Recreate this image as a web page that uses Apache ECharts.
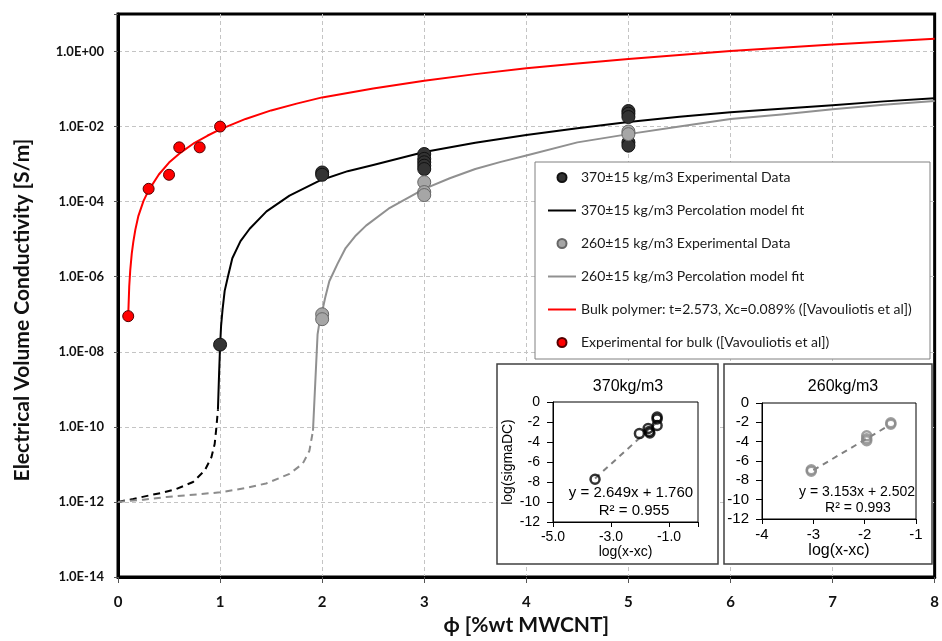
<!DOCTYPE html>
<html><head><meta charset="utf-8">
<script src="https://cdn.jsdelivr.net/npm/echarts@6/dist/echarts.min.js"></script>
<style>html,body{margin:0;padding:0;background:#fff}#c{width:942px;height:641px}</style>
</head><body><div id="c"></div>
<script>
// ---- main chart data (x = wt% MWCNT, sigma in S/m) ----
const xTickLabels = ['0','1','2','3','4','5','6','7','8'];
const yExps = [-14,-12,-10,-8,-6,-4,-2,0];
const yTickLabels = ['1.0E-14','1.0E-12','1.0E-10','1.0E-08','1.0E-06','1.0E-04','1.0E-02','1.0E+00'];

const bulkExpX = [0.1, 0.3, 0.5, 0.6, 0.8, 1.0];
const bulkExpSigma = [8.9e-8, 2.2e-4, 5.2e-4, 2.8e-3, 2.8e-3, 1.0e-2];

const bulkFitX = [0.1, 0.11, 0.12, 0.135, 0.15, 0.17, 0.2, 0.25, 0.3, 0.4, 0.5, 0.6, 0.75, 0.875, 1.0, 1.25, 1.5, 1.75, 2.0, 2.5, 3.0, 3.5, 4.0, 4.5, 5.0, 5.5, 6.0, 7.0, 8.0];
const bulkFitSigma = [9.0e-8, 5.5e-7, 1.5e-6, 4.2e-6, 8.5e-6, 1.8e-5, 4.2e-5, 1.05e-4, 2.0e-4, 5.3e-4, 1.1e-3, 1.9e-3, 3.7e-3, 5.7e-3, 8.4e-3, 1.6e-2, 2.7e-2, 4.1e-2, 6.0e-2, 0.103, 0.167, 0.25, 0.36, 0.48, 0.63, 0.81, 1.03, 1.55, 2.2];

const exp370X = [1, 2, 2, 3, 3, 3, 3, 3, 5, 5, 5, 5, 5];
const exp370Sigma = [1.55e-8, 6.0e-4, 5.2e-4, 1.86e-3, 1.38e-3, 1.12e-3, 9.1e-4, 7.4e-4, 2.6e-2, 2.2e-2, 1.8e-2, 3.8e-3, 3.1e-3];

const fit370X = [0.979, 0.99, 1.0, 1.01, 1.025, 1.045, 1.08, 1.12, 1.2, 1.29, 1.455, 1.68, 1.97, 2.25, 2.5, 3.0, 3.5, 4.0, 4.5, 5.0, 5.5, 6.0, 6.5, 7.0, 7.5, 8.0];
const fit370Sigma = [2.9e-10, 2.5e-9, 1.4e-8, 5.0e-8, 1.4e-7, 4.2e-7, 1.1e-6, 3.1e-6, 8.9e-6, 1.9e-5, 5.5e-5, 1.45e-4, 3.6e-4, 6.5e-4, 9.5e-4, 2.1e-3, 3.7e-3, 6.0e-3, 9.1e-3, 1.32e-2, 1.82e-2, 2.4e-2, 3.0e-2, 3.7e-2, 4.7e-2, 5.7e-2];

const dash370X = [0, 0.15, 0.31, 0.45, 0.57, 0.735, 0.85, 0.915, 0.947, 0.964, 0.979];
const dash370Sigma = [1.0e-12, 1.2e-12, 1.5e-12, 1.8e-12, 2.2e-12, 3.4e-12, 6.9e-12, 1.55e-11, 3.5e-11, 9.8e-11, 2.9e-10];

const exp260X = [2, 2, 3, 3, 3, 5, 5];
const exp260Sigma = [1.0e-7, 7.4e-8, 3.3e-4, 1.8e-4, 1.5e-4, 7.4e-3, 6.3e-3];

const fit260X = [1.91, 1.955, 1.975, 1.99, 2.03, 2.07, 2.15, 2.23, 2.33, 2.43, 2.65, 2.8, 3.0, 3.25, 3.5, 3.75, 4.0, 4.5, 5.0, 5.5, 6.0, 6.5, 7.0, 7.5, 8.0];
const fit260Sigma = [7.9e-11, 2.9e-8, 6.5e-8, 8.9e-8, 2.8e-7, 7.6e-7, 2.2e-6, 5.8e-6, 1.26e-5, 2.3e-5, 6.5e-5, 1.1e-4, 2.2e-4, 4.2e-4, 7.4e-4, 1.15e-3, 1.7e-3, 3.8e-3, 6.3e-3, 1.0e-2, 1.6e-2, 2.1e-2, 2.9e-2, 3.8e-2, 4.8e-2];

const dash260X = [0, 0.25, 0.475, 1.0, 1.25, 1.45, 1.68, 1.81, 1.875, 1.91];
const dash260Sigma = [1.0e-12, 1.15e-12, 1.35e-12, 1.8e-12, 2.35e-12, 3.1e-12, 5.6e-12, 1.05e-11, 2.3e-11, 7.9e-11];

// ---- inset data: log(x-xc) vs log(sigmaDC) ----
const in370X = [-3.55, -2.02, -1.72, -1.68, -1.66, -1.41, -1.41, -1.41];
const in370Y = [-7.73, -3.16, -2.65, -2.95, -3.1, -1.5, -1.7, -2.35];
const in370TrendX = [-3.55, -1.35];
const in370TrendY = [-7.65, -1.85];
const in260X = [-3.04, -3.04, -1.96, -1.96, -1.96, -1.49, -1.49];
const in260Y = [-6.9, -7.05, -3.4, -3.7, -3.9, -2.05, -2.2];
const in260TrendX = [-3.0, -1.55];
const in260TrendY = [-6.95, -2.4];

const legendNames = [
  '370±15 kg/m3 Experimental Data',
  '370±15 kg/m3 Percolation model fit',
  '260±15 kg/m3 Experimental Data',
  '260±15 kg/m3 Percolation model fit',
  'Bulk polymer: t=2.573, Xc=0.089% ([Vavouliotis et al])',
  'Experimental for bulk ([Vavouliotis et al])'
];

const logPts = (xs, ys) => xs.map((x, i) => [x, Math.log10(ys[i])]);
const pts = (xs, ys) => xs.map((x, i) => [x, ys[i]]);

const MAINFONT = 'Lato';
const INFONT = 'Liberation Sans';
const CLEAR = 'rgba(0,0,0,0)';

const chart = echarts.init(document.getElementById('c'), null, {renderer: 'canvas'});

const lineS = (name, xs, ys, color, dashed) => ({
  name, type: 'line', xAxisIndex: 0, yAxisIndex: 0,
  data: logPts(xs, ys), symbol: 'none', showSymbol: false, smooth: false,
  lineStyle: {color, width: 2, type: dashed ? [7, 5] : 'solid', join: 'round'},
  itemStyle: {color: CLEAR}, z: 2, silent: true, animation: false
});
const scatS = (name, xs, ys, fill, stroke, size) => ({
  name, type: 'scatter', xAxisIndex: 0, yAxisIndex: 0,
  data: logPts(xs, ys), symbol: 'circle', symbolSize: size,
  itemStyle: {color: fill, borderColor: stroke, borderWidth: 1, opacity: 1},
  z: 5, silent: true, animation: false
});

const legendData = legendNames.map((n, i) =>
  (i === 1 || i === 3 || i === 4) ? {name: n, itemStyle: {opacity: 0}} : {name: n});

const option = {
  backgroundColor: '#fff',
  animation: false,
  grid: [
    {left: 118, top: 14, width: 819, height: 566, show: true, borderColor: '#000', borderWidth: 3, backgroundColor: '#fff'},
    {left: 553, top: 402, width: 145, height: 120, show: true, borderColor: '#000', borderWidth: 1, z: 3},
    {left: 762, top: 403, width: 154, height: 116, show: true, borderColor: '#000', borderWidth: 1, z: 3}
  ],
  xAxis: [
    {gridIndex: 0, type: 'value', min: 0, max: 8, interval: 1,
     axisLine: {show: true, onZero: false, lineStyle: {color: '#000', width: 3}},
     axisTick: {show: true, length: 6, lineStyle: {color: '#555'}},
     axisLabel: {margin: 18, fontFamily: MAINFONT, fontWeight: 'bold', fontSize: 15, color: '#111',
       formatter: v => { const i = Math.round(v); return Math.abs(v - i) < 1e-9 && xTickLabels[i] != null ? xTickLabels[i] : ''; }},
     splitLine: {show: true, showMinLine: false, showMaxLine: false, lineStyle: {color: '#c4c4c4', width: 1, type: [4, 3]}},
     name: 'ϕ [%wt MWCNT]', nameLocation: 'middle', nameGap: 38,
     nameTextStyle: {fontFamily: MAINFONT, fontWeight: 'bold', fontSize: 21, color: '#111'}},
    {gridIndex: 1, type: 'value', min: -5, max: 0, interval: 2, z: 4,
     axisLine: {show: true, onZero: false, lineStyle: {color: '#000', width: 1}},
     axisTick: {show: true, length: 5, lineStyle: {color: '#000'}},
     axisLabel: {margin: 8, fontFamily: INFONT, fontSize: 14, color: '#000',
       formatter: v => Math.abs(v) < 1e-9 ? '' : v.toFixed(1)},
     splitLine: {show: false},
     name: 'log(x-xc)', nameLocation: 'middle', nameGap: 20,
     nameTextStyle: {fontFamily: INFONT, fontSize: 14, color: '#000'}},
    {gridIndex: 2, type: 'value', min: -4, max: -1, interval: 1, z: 4,
     axisLine: {show: true, onZero: false, lineStyle: {color: '#000', width: 1}},
     axisTick: {show: true, length: 5, lineStyle: {color: '#000'}},
     axisLabel: {margin: 8, fontFamily: INFONT, fontSize: 15, color: '#000'},
     splitLine: {show: false},
     name: 'log(x-xc)', nameLocation: 'middle', nameGap: 22,
     nameTextStyle: {fontFamily: INFONT, fontSize: 16, color: '#000'}}
  ],
  yAxis: [
    {gridIndex: 0, type: 'value', min: -14, max: 1, interval: 2,
     axisLine: {show: true, onZero: false, lineStyle: {color: '#000', width: 3}},
     axisTick: {show: true, length: 4, lineStyle: {color: '#555'}},
     axisLabel: {margin: 14, fontFamily: MAINFONT, fontWeight: 'bold', fontSize: 13, color: '#111',
       formatter: v => { const r = Math.round(v); const i = yExps.indexOf(r); return (i >= 0 && Math.abs(v - r) < 1e-9) ? yTickLabels[i] : ''; }},
     splitLine: {show: true, showMinLine: false, showMaxLine: false, lineStyle: {color: '#c4c4c4', width: 1, type: [4, 3]}}},
    {gridIndex: 1, type: 'value', min: -12, max: 0, interval: 2, z: 4,
     axisLine: {show: true, onZero: false, lineStyle: {color: '#000', width: 1}},
     axisTick: {show: true, length: 6, lineStyle: {color: '#000'}},
     axisLabel: {margin: 13, fontFamily: INFONT, fontSize: 14, color: '#000'},
     splitLine: {show: false},
     name: 'log(sigmaDC)', nameLocation: 'middle', nameGap: 38, nameRotate: 90,
     nameTextStyle: {fontFamily: INFONT, fontSize: 14, color: '#000'}},
    {gridIndex: 2, type: 'value', min: -12, max: 0, interval: 2, z: 4,
     axisLine: {show: true, onZero: false, lineStyle: {color: '#000', width: 1}},
     axisTick: {show: true, length: 6, lineStyle: {color: '#000'}},
     axisLabel: {margin: 13, fontFamily: INFONT, fontSize: 15, color: '#000'},
     splitLine: {show: false}}
  ],
  legend: {
    left: 547, top: 169, padding: 0, orient: 'vertical', itemWidth: 28, itemHeight: 9, itemGap: 16,
    selectedMode: false, z: 6,
    textStyle: {fontFamily: MAINFONT, fontSize: 14, color: '#1a1a1a', lineHeight: 17},
    data: legendData
  },
  graphic: [
    {type: 'rect', z: 1, shape: {x: 535, y: 162, width: 395, height: 197}, style: {fill: '#fff', stroke: '#808080', lineWidth: 1}},
    {type: 'rect', z: 1, shape: {x: 497, y: 364, width: 221, height: 200}, style: {fill: '#fff', stroke: '#404040', lineWidth: 1.5}},
    {type: 'rect', z: 1, shape: {x: 724, y: 364, width: 208, height: 200}, style: {fill: '#fff', stroke: '#404040', lineWidth: 1.5}},
    {type: 'text', z: 7, x: 22, y: 310, rotation: Math.PI / 2,
     style: {text: 'Electrical Volume Conductivity [S/m]', align: 'center', verticalAlign: 'middle', fontFamily: MAINFONT, fontWeight: 'bold', fontSize: 21, fill: '#111'}},
    {type: 'text', z: 7, x: 628, y: 387, style: {text: '370kg/m3', align: 'center', verticalAlign: 'middle', fontFamily: INFONT, fontSize: 16, fill: '#000'}},
    {type: 'text', z: 7, x: 843, y: 387, style: {text: '260kg/m3', align: 'center', verticalAlign: 'middle', fontFamily: INFONT, fontSize: 16, fill: '#000'}},
    {type: 'text', z: 7, x: 631, y: 493, style: {text: 'y = 2.649x + 1.760', align: 'center', verticalAlign: 'middle', fontFamily: INFONT, fontSize: 15, fill: '#000'}},
    {type: 'text', z: 7, x: 634, y: 511, style: {text: 'R² = 0.955', align: 'center', verticalAlign: 'middle', fontFamily: INFONT, fontSize: 15, fill: '#000'}},
    {type: 'text', z: 7, x: 857, y: 492, style: {text: 'y = 3.153x + 2.502', align: 'center', verticalAlign: 'middle', fontFamily: INFONT, fontSize: 14, fill: '#000'}},
    {type: 'text', z: 7, x: 858, y: 508, style: {text: 'R² = 0.993', align: 'center', verticalAlign: 'middle', fontFamily: INFONT, fontSize: 14, fill: '#000'}}
  ],
  series: [
    lineS('370 extrapolation', dash370X, dash370Sigma, '#000', true),
    lineS('260 extrapolation', dash260X, dash260Sigma, '#8c8c8c', true),
    lineS(legendNames[3], fit260X, fit260Sigma, '#909090', false),
    lineS(legendNames[1], fit370X, fit370Sigma, '#000', false),
    lineS(legendNames[4], bulkFitX, bulkFitSigma, '#ff0000', false),
    scatS(legendNames[0], exp370X, exp370Sigma, '#333333', '#111111', 13),
    scatS(legendNames[2], exp260X, exp260Sigma, '#a6a6a6', '#666666', 13),
    scatS(legendNames[5], bulkExpX, bulkExpSigma, '#ff0000', '#550000', 11),
    // inset 370
    {name: 'trend370', type: 'line', xAxisIndex: 1, yAxisIndex: 1, data: pts(in370TrendX, in370TrendY),
     symbol: 'none', lineStyle: {color: '#808080', width: 2, type: [6, 5]}, z: 8, silent: true},
    {name: 'pts370', type: 'scatter', xAxisIndex: 1, yAxisIndex: 1, data: pts(in370X, in370Y),
     symbol: 'circle', symbolSize: 9, itemStyle: {color: 'rgba(255,255,255,0)', borderColor: '#000', borderWidth: 2.5}, z: 9, silent: true},
    // inset 260
    {name: 'trend260', type: 'line', xAxisIndex: 2, yAxisIndex: 2, data: pts(in260TrendX, in260TrendY),
     symbol: 'none', lineStyle: {color: '#808080', width: 2, type: [6, 5]}, z: 8, silent: true},
    {name: 'pts260', type: 'scatter', xAxisIndex: 2, yAxisIndex: 2, data: pts(in260X, in260Y),
     symbol: 'circle', symbolSize: 9, itemStyle: {color: 'rgba(255,255,255,0)', borderColor: '#888', borderWidth: 2.5}, z: 9, silent: true}
  ]
};
chart.setOption(option);
</script>
</body></html>
